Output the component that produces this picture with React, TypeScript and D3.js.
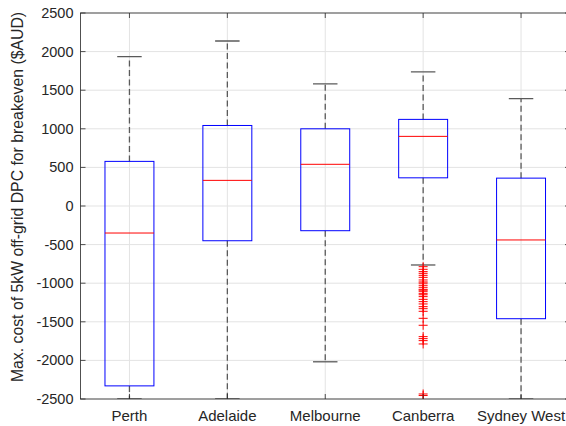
import React from "react";
import * as d3 from "d3";

const categories = ["Perth", "Adelaide", "Melbourne", "Canberra", "Sydney West"];
const q1 = [-2330, -450, -320, 365, -1460];
const medians = [-350, 332, 540, 902, -440];
const q3 = [578, 1043, 1000, 1122, 361];
const whiskerLow = [-2500, -2500, -2018, -764, -2500];
const whiskerHigh = [1934, 2137, 1582, 1737, 1392];
const outlierCategory = "Canberra";
const outliers = [
  -786, -820, -850, -872, -898, -924, -958, -984, -1000, -1027, -1053, -1079, -1090,
  -1105, -1131, -1150, -1174, -1209, -1239, -1269, -1304, -1330, -1364, -1455, -1545,
  -1692, -1718, -1744, -1787, -2435, -2455,
];
const yTicks = [-2500, -2000, -1500, -1000, -500, 0, 500, 1000, 1500, 2000, 2500];
const yLabel = "Max. cost of 5kW off-grid DPC for breakeven ($AUD)";

const W = 566;
const H = 426;
const left = 80.5;
const right = 570;
const top = 13;
const bottom = 399;
const font = "'Liberation Sans', Arial, sans-serif";
const axisColor = "#262626";

export default function App() {
  const x = d3.scaleLinear().domain([0.5, categories.length + 0.5]).range([left, right]);
  const y = d3.scaleLinear().domain([-2500, 2500]).range([bottom, top]);
  const boxHalf = 0.25;
  const capHalf = 0.125;
  const mk = 4.5;
  const whiskerColor = "#5a5a5a";

  return (
    <div style={{ position: "absolute", left: 0, top: 0, width: W, height: H, overflow: "hidden", background: "#fff" }}>
      <svg width={W} height={H} style={{ display: "block" }}>
        <defs>
          <clipPath id="plotclip">
            <rect x={left} y={top} width={right - left} height={bottom - top} />
          </clipPath>
        </defs>
        <rect x={0} y={0} width={W} height={H} fill="#fff" />
        <g stroke="#e3e3e3" strokeWidth={1}>
          {yTicks.map((t) => (
            <line key={"gy" + t} x1={left} x2={right} y1={y(t)} y2={y(t)} />
          ))}
          {categories.map((c, i) => (
            <line key={"gx" + c} x1={x(i + 1)} x2={x(i + 1)} y1={top} y2={bottom} />
          ))}
        </g>
        <g clipPath="url(#plotclip)">
          {categories.map((c, i) => {
            const cx = x(i + 1);
            return (
              <g key={c}>
                <line x1={cx} x2={cx} y1={y(q3[i])} y2={y(whiskerHigh[i])} stroke={whiskerColor} strokeWidth={1.3} strokeDasharray="6,3.5" />
                <line x1={cx} x2={cx} y1={y(q1[i])} y2={y(whiskerLow[i])} stroke={whiskerColor} strokeWidth={1.3} strokeDasharray="6,3.5" />
                <line x1={x(i + 1 - capHalf)} x2={x(i + 1 + capHalf)} y1={y(whiskerHigh[i])} y2={y(whiskerHigh[i])} stroke={whiskerColor} strokeWidth={1.3} />
                <line x1={x(i + 1 - capHalf)} x2={x(i + 1 + capHalf)} y1={y(whiskerLow[i])} y2={y(whiskerLow[i])} stroke={whiskerColor} strokeWidth={1.3} />
                <rect
                  x={x(i + 1 - boxHalf)}
                  y={y(q3[i])}
                  width={x(i + 1 + boxHalf) - x(i + 1 - boxHalf)}
                  height={y(q1[i]) - y(q3[i])}
                  fill="none"
                  stroke="#0000ff"
                  strokeWidth={1}
                />
                <line x1={x(i + 1 - boxHalf)} x2={x(i + 1 + boxHalf)} y1={y(medians[i])} y2={y(medians[i])} stroke="#ff0000" strokeWidth={1} />
              </g>
            );
          })}
          {outliers.map((v, j) => {
            const cx = x(categories.indexOf(outlierCategory) + 1);
            const cy = y(v);
            return (
              <g key={"o" + j} stroke="#ff0000" strokeWidth={1}>
                <line x1={cx - mk} x2={cx + mk} y1={cy} y2={cy} />
                <line x1={cx} x2={cx} y1={cy - mk} y2={cy + mk} />
              </g>
            );
          })}
        </g>
        <rect x={left} y={top} width={right - left} height={bottom - top} fill="none" stroke={axisColor} strokeWidth={0.8} />
        <g stroke={axisColor} strokeWidth={0.8}>
          {yTicks.map((t) => (
            <g key={"ty" + t}>
              <line x1={left} x2={left + 5} y1={y(t)} y2={y(t)} />
              <line x1={right - 5} x2={right} y1={y(t)} y2={y(t)} />
            </g>
          ))}
          {categories.map((c, i) => (
            <g key={"tx" + c}>
              <line x1={x(i + 1)} x2={x(i + 1)} y1={bottom} y2={bottom - 5} />
              <line x1={x(i + 1)} x2={x(i + 1)} y1={top} y2={top + 5} />
            </g>
          ))}
        </g>
        <g fontFamily={font} fill={axisColor}>
          {yTicks.map((t) => (
            <text key={"ly" + t} x={left - 7} y={y(t)} textAnchor="end" dominantBaseline="central" fontSize={14.5}>
              {t}
            </text>
          ))}
          {categories.map((c, i) => (
            <text key={"lx" + c} x={x(i + 1)} y={421} textAnchor="middle" fontSize={15}>
              {c}
            </text>
          ))}
        </g>
        <text
          transform={`translate(23, 197) rotate(-90)`}
          textAnchor="middle"
          fontFamily={font}
          fontSize={15.8}
          fill={axisColor}
        >
          {yLabel}
        </text>
      </svg>
    </div>
  );
}
